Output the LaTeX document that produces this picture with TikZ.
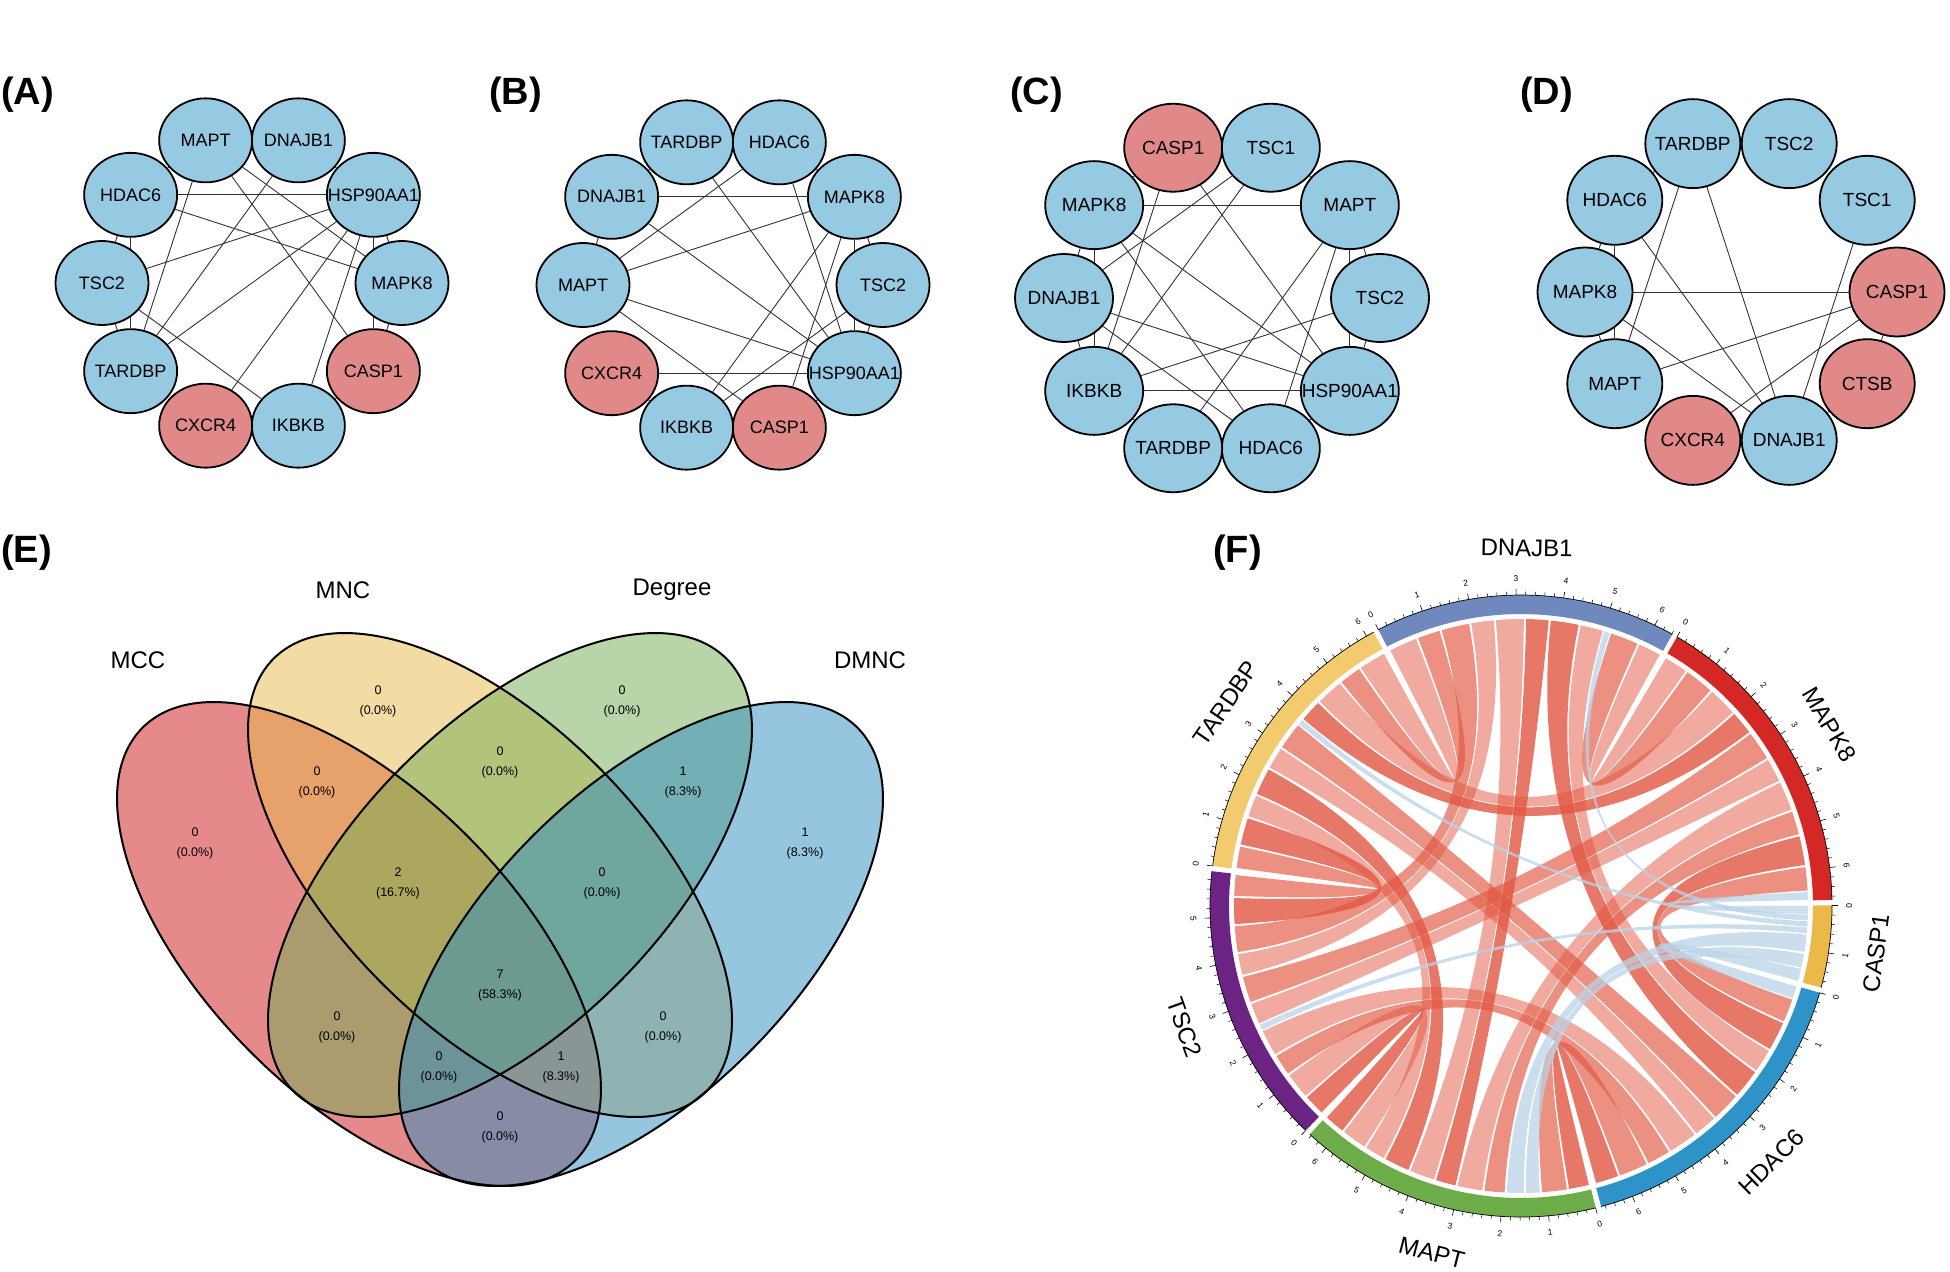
\documentclass[tikz,border=0pt]{standalone}
\usepackage{fontspec}
\setmainfont{Liberation Sans}
\usetikzlibrary{shapes.geometric}

\definecolor{nodeblue}{RGB}{150,201,226}
\definecolor{nodered}{RGB}{225,137,137}
\definecolor{vred}{RGB}{205,21,25}
\definecolor{vyellow}{RGB}{233,185,75}
\definecolor{vgreen}{RGB}{115,173,85}
\definecolor{vblue}{RGB}{45,141,193}
\definecolor{cDNAJB}{RGB}{111,137,191}
\definecolor{cMAPK}{RGB}{211,40,38}
\definecolor{cCASP}{RGB}{234,185,74}
\definecolor{cHDAC}{RGB}{46,147,198}
\definecolor{cMAPT}{RGB}{108,173,74}
\definecolor{cTSC}{RGB}{107,36,132}
\definecolor{cTARD}{RGB}{242,203,110}
\definecolor{linkred}{RGB}{226,86,64}
\definecolor{linkblue}{RGB}{185,212,232}

\pgfdeclarelayer{background}
\pgfsetlayers{background,main}

\newcommand{\gn}[1]{\makebox[0pt]{#1}}

% sector start angles of the chord diagram (8.8 degrees per unit, clockwise)
\def\angDN{117.3}
\def\angMK{59.9}
\def\angCA{0.1}
\def\angHD{-16.2}
\def\angMT{-76.1}
\def\angTS{-133.8}
\def\angTA{172.6}

% one ribbon: start A, from, to, start B, from, to, style
\newcommand{\ribbon}[7]{%
  \pgfmathsetmacro\rAa{#1-8.8*(#2)}%
  \pgfmathsetmacro\rAb{#1-8.8*(#3)}%
  \pgfmathsetmacro\rBa{#4-8.8*(#5)}%
  \pgfmathsetmacro\rBb{#4-8.8*(#6)}%
  \fill[#7] (\rAa:287) arc[start angle=\rAa, end angle=\rAb, radius=287]
    .. controls (\rAb:95.7) and (\rBa:95.7) .. (\rBa:287)
    arc[start angle=\rBa, end angle=\rBb, radius=287]
    .. controls (\rBb:95.7) and (\rAa:95.7) .. (\rAa:287) -- cycle;
}
% two nested ribbons between two slots
\newcommand{\pairlink}[8]{%
  \pgfmathsetmacro\mA{#2+0.55*(#3-(#2))}%
  \pgfmathsetmacro\mB{#5+0.45*(#6-(#5))}%
  \ribbon{#1}{#2+0.025}{\mA-0.025}{#4}{\mB+0.025}{#6-0.025}{#7}%
  \ribbon{#1}{\mA+0.025}{#3-0.025}{#4}{#5+0.025}{\mB-0.025}{#8}%
}

\begin{document}
\begin{tikzpicture}[x=1pt, y=-1pt,
    gene/.style={ellipse, draw, line width=1.8pt, fill=nodeblue, inner sep=0pt,
      minimum width=93pt, minimum height=84pt, font=\fontsize{18}{18}\selectfont},
    link/.style={line width=0.9pt, black!80},
    plabel/.style={anchor=west, inner sep=0pt, font=\fontsize{38}{38}\selectfont\bfseries},
    setname/.style={inner sep=0pt, font=\fontsize{24}{24}\selectfont},
    vnum/.style={inner sep=0pt, align=center, font=\fontsize{12.5}{20}\selectfont},
    setline/.style={line width=2pt},
    chordA/.style={fill=linkred, fill opacity=0.5},
    chordB/.style={fill=linkred, fill opacity=0.65},
    chordC/.style={fill=linkred, fill opacity=0.8},
    chordblue/.style={fill=linkblue, fill opacity=0.75},
    secname/.style={inner sep=0pt, font=\fontsize{24}{24}\selectfont},
    ticklab/.style={inner sep=0pt, font=\fontsize{8.5}{8.5}\selectfont}
]
\useasboundingbox (0,0) rectangle (1950,1271);
\begin{pgfonlayer}{background}
\fill[white] (0,0) rectangle (1950,1271);
\end{pgfonlayer}

% Panel labels
\node[plabel] (labA) at (1,95) {(A)};
\node[plabel] (labB) at (489,95) {(B)};
\node[plabel] (labC) at (1010,95) {(C)};
\node[plabel] (labD) at (1520,95) {(D)};
\node[plabel] (labE) at (1,553) {(E)};
\node[plabel] (labF) at (1213,553) {(F)};

% (A) network
\begin{scope}[shift={(252,283)}, y=1pt]
\foreach \g/\c [count=\k from 0] in {MAPT/nodeblue, DNAJB1/nodeblue, HSP90AA1/nodeblue,
    MAPK8/nodeblue, CASP1/nodered, IKBKB/nodeblue, CXCR4/nodered, TARDBP/nodeblue,
    TSC2/nodeblue, HDAC6/nodeblue}
  \node[gene, fill=\c] (A-\g) at ({108-36*\k}:150) {\gn{\g}};
\end{scope}
\begin{pgfonlayer}{background}
\foreach \u/\v in {HDAC6/HSP90AA1, HDAC6/MAPK8, HDAC6/TSC2, HDAC6/TARDBP, HDAC6/MAPT,
    MAPT/TARDBP, MAPT/CASP1, MAPT/MAPK8, MAPT/DNAJB1, DNAJB1/TARDBP, DNAJB1/HSP90AA1,
    HSP90AA1/TSC2, HSP90AA1/TARDBP, HSP90AA1/CXCR4, HSP90AA1/IKBKB, HSP90AA1/MAPK8,
    HSP90AA1/CASP1, MAPK8/CASP1, TSC2/IKBKB, TSC2/TARDBP, CASP1/IKBKB, CXCR4/IKBKB}
  \draw[link] (A-\u) -- (A-\v);
\end{pgfonlayer}

% (B) network
\begin{scope}[shift={(733,285)}, y=1pt]
\foreach \g/\c [count=\k from 0] in {TARDBP/nodeblue, HDAC6/nodeblue, MAPK8/nodeblue,
    TSC2/nodeblue, HSP90AA1/nodeblue, CASP1/nodered, IKBKB/nodeblue, CXCR4/nodered,
    MAPT/nodeblue, DNAJB1/nodeblue}
  \node[gene, fill=\c] (B-\g) at ({108-36*\k}:150) {\gn{\g}};
\end{scope}
\begin{pgfonlayer}{background}
\foreach \u/\v in {DNAJB1/MAPK8, DNAJB1/HSP90AA1, DNAJB1/MAPT, DNAJB1/TARDBP,
    TARDBP/HSP90AA1, TARDBP/HDAC6, HDAC6/MAPT, HDAC6/HSP90AA1, HDAC6/MAPK8, MAPK8/MAPT,
    MAPK8/IKBKB, MAPK8/CASP1, MAPK8/TSC2, MAPK8/HSP90AA1, TSC2/IKBKB, TSC2/HSP90AA1,
    MAPT/HSP90AA1, MAPT/CASP1, CXCR4/HSP90AA1, CXCR4/IKBKB, CASP1/HSP90AA1, IKBKB/CASP1}
  \draw[link] (B-\u) -- (B-\v);
\end{pgfonlayer}

% (C) network
\begin{scope}[shift={(1222,298)}, y=1pt,
    gene/.append style={minimum width=98pt, minimum height=88pt, font=\fontsize{19}{19}\selectfont}]
\foreach \g/\c [count=\k from 0] in {CASP1/nodered, TSC1/nodeblue, MAPT/nodeblue,
    TSC2/nodeblue, HSP90AA1/nodeblue, HDAC6/nodeblue, TARDBP/nodeblue, IKBKB/nodeblue,
    DNAJB1/nodeblue, MAPK8/nodeblue}
  \node[gene, fill=\c] (C-\g) at ({108-36*\k}:158) {\gn{\g}};
\end{scope}
\begin{pgfonlayer}{background}
\foreach \u/\v in {MAPK8/MAPT, MAPK8/HSP90AA1, MAPK8/HDAC6, MAPK8/DNAJB1, MAPK8/IKBKB,
    MAPK8/CASP1, CASP1/IKBKB, CASP1/HSP90AA1, CASP1/TSC1, TSC1/DNAJB1, TSC1/IKBKB,
    TSC1/MAPT, MAPT/TARDBP, MAPT/HDAC6, MAPT/TSC2, MAPT/HSP90AA1, TSC2/IKBKB,
    TSC2/HSP90AA1, DNAJB1/HSP90AA1, DNAJB1/HDAC6, DNAJB1/IKBKB, IKBKB/HSP90AA1,
    IKBKB/TARDBP, HDAC6/HSP90AA1, TARDBP/HDAC6}
  \draw[link] (C-\u) -- (C-\v);
\end{pgfonlayer}

% (D) network
\begin{scope}[shift={(1741,292)}, y=1pt,
    gene/.append style={minimum width=95pt, minimum height=89pt, font=\fontsize{19}{19}\selectfont}]
\foreach \g/\c [count=\k from 0] in {TARDBP/nodeblue, TSC2/nodeblue, TSC1/nodeblue,
    CASP1/nodered, CTSB/nodered, DNAJB1/nodeblue, CXCR4/nodered, MAPT/nodeblue,
    MAPK8/nodeblue, HDAC6/nodeblue}
  \node[gene, fill=\c] (D-\g) at ({108-36*\k}:156) {\gn{\g}};
\end{scope}
\begin{pgfonlayer}{background}
\foreach \u/\v in {TARDBP/TSC2, TARDBP/HDAC6, TARDBP/MAPT, TARDBP/DNAJB1, HDAC6/MAPK8,
    HDAC6/MAPT, HDAC6/DNAJB1, MAPK8/CASP1, MAPK8/DNAJB1, MAPK8/MAPT, MAPT/CASP1,
    CASP1/CXCR4, CASP1/CTSB, TSC1/DNAJB1, CTSB/DNAJB1, CXCR4/DNAJB1}
  \draw[link] (D-\u) -- (D-\v);
\end{pgfonlayer}

% (E) Venn diagram
\fill[vred, fill opacity=0.5, rotate around={-45:(359,944)}] (359,944) ellipse[x radius=306pt, y radius=153pt];
\fill[vyellow, fill opacity=0.5, rotate around={-45:(490,875)}] (490,875) ellipse[x radius=306pt, y radius=153pt];
\fill[vgreen, fill opacity=0.5, rotate around={45:(510,875)}] (510,875) ellipse[x radius=306pt, y radius=153pt];
\fill[vblue, fill opacity=0.5, rotate around={45:(641,944)}] (641,944) ellipse[x radius=306pt, y radius=153pt];
\draw[setline, rotate around={-45:(359,944)}] (359,944) ellipse[x radius=306pt, y radius=153pt];
\draw[setline, rotate around={-45:(490,875)}] (490,875) ellipse[x radius=306pt, y radius=153pt];
\draw[setline, rotate around={45:(510,875)}] (510,875) ellipse[x radius=306pt, y radius=153pt];
\draw[setline, rotate around={45:(641,944)}] (641,944) ellipse[x radius=306pt, y radius=153pt];

\node[setname] (MCC) at (138,660) {MCC};
\node[setname] (MNC) at (343,590) {MNC};
\node[setname] (Degree) at (672,590) {Degree};
\node[setname] (DMNC) at (870,660) {DMNC};

\node[vnum] (n1) at (195,843) {0\\(0.0\%)};
\node[vnum] (n2) at (317,782) {0\\(0.0\%)};
\node[vnum] (n3) at (378,701) {0\\(0.0\%)};
\node[vnum] (n4) at (500,762) {0\\(0.0\%)};
\node[vnum] (n5) at (622,701) {0\\(0.0\%)};
\node[vnum] (n6) at (683,782) {1\\(8.3\%)};
\node[vnum] (n7) at (805,843) {1\\(8.3\%)};
\node[vnum] (n8) at (398,883) {2\\(16.7\%)};
\node[vnum] (n9) at (602,883) {0\\(0.0\%)};
\node[vnum] (n10) at (500,985) {7\\(58.3\%)};
\node[vnum] (n11) at (337,1027) {0\\(0.0\%)};
\node[vnum] (n12) at (663,1027) {0\\(0.0\%)};
\node[vnum] (n13) at (439,1067) {0\\(0.0\%)};
\node[vnum] (n14) at (561,1067) {1\\(8.3\%)};
\node[vnum] (n15) at (500,1127) {0\\(0.0\%)};

% (F) chord diagram
\begin{scope}[shift={(1521,906)}, y=1pt]
% links
\pairlink{\angDN}{5.158}{6.41}{\angMK}{0}{1.296}{chordB}{chordA}
\pairlink{\angDN}{3.756}{5.008}{\angHD}{1.578}{2.856}{chordC}{chordA}
\pairlink{\angDN}{2.504}{3.756}{\angMT}{3.056}{4.184}{chordA}{chordC}
\pairlink{\angDN}{1.252}{2.504}{\angTS}{3.648}{4.814}{chordB}{chordA}
\pairlink{\angDN}{0}{1.252}{\angTA}{4.964}{6.17}{chordA}{chordB}
\pairlink{\angMK}{5.184}{6.48}{\angHD}{0.3}{1.578}{chordC}{chordB}
\pairlink{\angMK}{3.888}{5.184}{\angMT}{1.928}{3.056}{chordA}{chordB}
\pairlink{\angMK}{2.592}{3.888}{\angTS}{2.482}{3.648}{chordB}{chordA}
\pairlink{\angMK}{1.296}{2.592}{\angTA}{3.758}{4.964}{chordA}{chordC}
\pairlink{\angHD}{5.412}{6.69}{\angMT}{0}{1.128}{chordB}{chordC}
\pairlink{\angHD}{4.134}{5.412}{\angTS}{1.166}{2.332}{chordA}{chordB}
\pairlink{\angHD}{2.856}{4.134}{\angTA}{2.412}{3.618}{chordB}{chordA}
\pairlink{\angMT}{5.312}{6.44}{\angTS}{0}{1.166}{chordA}{chordC}
\pairlink{\angMT}{4.184}{5.312}{\angTA}{1.206}{2.412}{chordC}{chordA}
\pairlink{\angTS}{4.814}{5.98}{\angTA}{0}{1.206}{chordC}{chordB}
\ribbon{\angCA}{0.01}{0.19}{\angMK}{6.49}{6.67}{chordblue}
\ribbon{\angCA}{0.21}{0.34}{\angDN}{5.018}{5.148}{chordblue}
\ribbon{\angCA}{0.36}{0.48}{\angTA}{3.628}{3.748}{chordblue}
\ribbon{\angCA}{0.5}{0.63}{\angTS}{2.342}{2.472}{chordblue}
\pairlink{\angCA}{0.64}{1.44}{\angMT}{1.128}{1.928}{chordblue}{chordblue}
\ribbon{\angCA}{1.45}{1.73}{\angHD}{0.01}{0.29}{chordblue}
% sectors, axis and names
\foreach \s/\e/\n/\col/\g/\rot in {117.3/60.89/32/cDNAJB/DNAJB1/-0.9,
    59.9/1.12/33/cMAPK/MAPK8/-59.5, 0.1/-15.21/8/cCASP/CASP1/82.45,
    -16.2/-75.07/33/cHDAC/HDAC6/44.4, -76.1/-132.77/32/cMAPT/MAPT/-14.4,
    -133.8/-186.42/29/cTSC/TSC2/-70.1, 172.6/118.3/30/cTARD/TARDBP/55.45}
{
  \fill[\col] (\s:292) arc[start angle=\s, end angle=\e, radius=292]
    -- (\e:311) arc[start angle=\e, end angle=\s, radius=311] -- cycle;
  \draw[line width=0.7pt] (\s:311) arc[start angle=\s, end angle=\e, radius=311];
  \foreach \i in {0,...,\n} {
    \pgfmathsetmacro\ta{\s-1.76*\i}
    \pgfmathtruncatemacro\tm{mod(\i,5)}
    \ifnum\tm=0
      \pgfmathtruncatemacro\tv{\i/5}
      \pgfmathsetmacro\tr{sin(\ta)>0 ? \ta-90 : \ta+90}
      \draw[line width=0.6pt] (\ta:311) -- (\ta:317);
      \node[ticklab, rotate=\tr] at (\ta:328) {\tv};
    \else
      \draw[line width=0.5pt] (\ta:311) -- (\ta:314.5);
    \fi
  }
  \node[secname, rotate=\rot] (F-\g) at ({(\s+\e)/2}:358) {\g};
}
\end{scope}

\end{tikzpicture}
\end{document}
